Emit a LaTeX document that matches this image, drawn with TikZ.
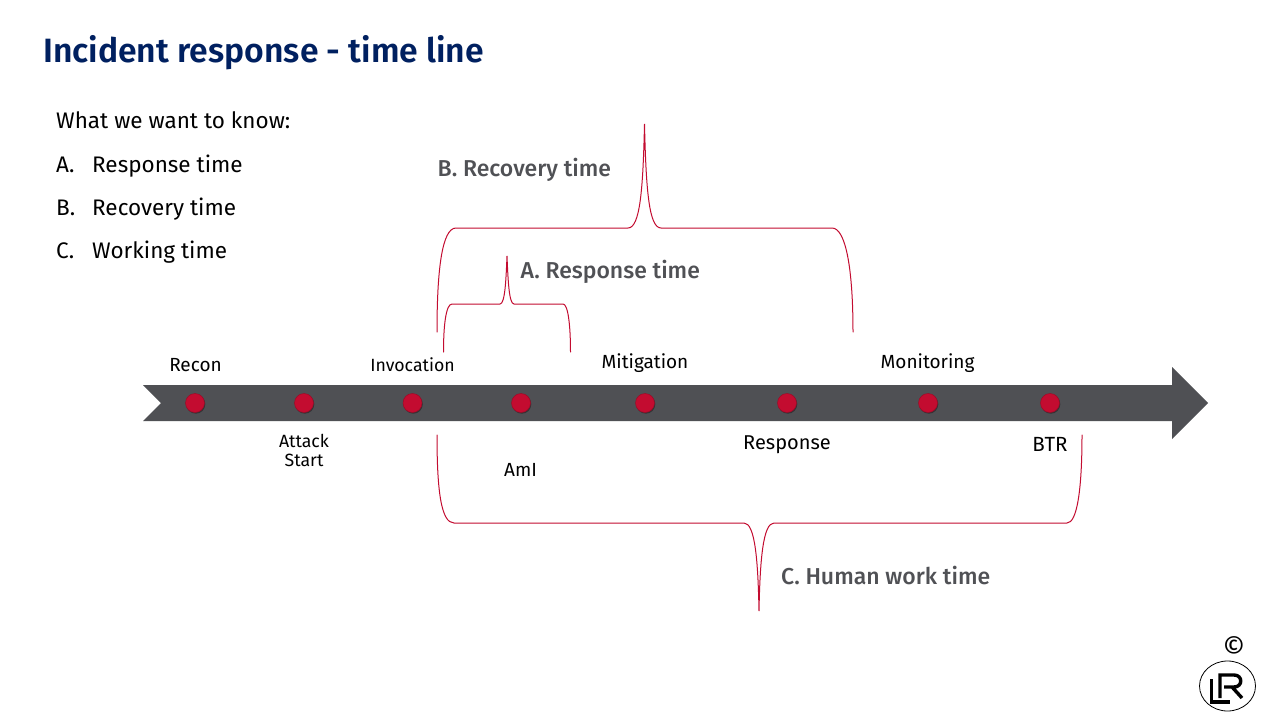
\documentclass[tikz,border=0pt]{standalone}
\usepackage{fontspec}
\setmainfont{Fira Sans}
\usetikzlibrary{shadows,shapes.geometric}
\definecolor{lrred}{HTML}{C30C30}
\definecolor{bar}{HTML}{4F5054}
\definecolor{navy}{HTML}{002060}
\definecolor{lab}{HTML}{505155}
\tikzset{x=1pt,y=-1pt,
 dot/.style={circle,minimum size=19pt,inner sep=0pt,fill=lrred,draw=lrred!80!black,line width=.5pt,drop shadow={shadow xshift=.8pt,shadow yshift=-1.2pt,opacity=.35,fill=black}},
 tick/.style={font=\fontsize{17.7}{21}\selectfont,text=black,align=center,inner sep=0pt},
 listtxt/.style={font=\fontsize{22.5}{26}\selectfont,text=black,anchor=base west,inner sep=0pt},
 blab/.style={font=\fontsize{23}{26}\selectfont\fontspec{Fira Sans Medium},text=lab,anchor=base west,inner sep=0pt},
 brace/.style={draw=lrred,line width=1pt,line cap=round}}
\begin{document}
\begin{tikzpicture}
\useasboundingbox (0,0) rectangle (1280,720);
\fill[white] (0,0) rectangle (1280,720);
\node[anchor=base west,inner sep=0pt,text=navy,font=\fontsize{33.7}{38}\selectfont\fontspec{Fira Sans SemiBold}] (title) at (43,62) {Incident response - time line};
\node[listtxt] (q) at (56,128) {What we want to know:};
\node[listtxt] (la) at (56,172) {A.};\node[listtxt] (ta) at (92,172) {Response time};
\node[listtxt] (lb) at (56,215) {B.};\node[listtxt] (tb) at (92,215) {Recovery time};
\node[listtxt] (lc) at (56,258) {C.};\node[listtxt] (tc) at (92,258) {Working time};
% arrow
\fill[bar] (143,385) -- (1172,385) -- (1172,367) -- (1208,403) -- (1172,439) -- (1172,421) -- (143,421) -- (161,403) -- cycle;
\foreach \n/\x in {d1/195,d2/304,d3/412.5,d4/521,d5/645,d6/787,d7/928,d8/1050}{\node[dot] (\n) at (\x,403) {};}
\node[tick,font=\fontsize{19}{22}\selectfont] (t1) at (195.5,365) {Recon};
\node[tick] (t2) at (304,450.5) {Attack\\[-2.5pt]Start};
\node[tick] (t3) at (412.5,365) {Invocation};
\node[tick,font=\fontsize{19}{22}\selectfont] (t4) at (520.5,469.5) {AmI};
\node[tick,font=\fontsize{19}{22}\selectfont] (t5) at (645,363) {Mitigation};
\node[tick,font=\fontsize{20}{22}\selectfont] (t6) at (787,444.5) {Response};
\node[tick,font=\fontsize{19}{22}\selectfont] (t7) at (927.5,363) {Monitoring};
\node[tick,font=\fontsize{20.5}{22}\selectfont] (t8) at (1050,444.5) {BTR};
% braces
\coordinate (bL) at (437,332);\coordinate (bT) at (644.5,124);\coordinate (bR) at (853,332);
\draw[brace] (bL) .. controls (437,270) and (442,228) .. (456,228) -- (628,228) .. controls (640,228) and (643,190) .. (bT) .. controls (646,190) and (649,228) .. (661,228) -- (832,228) .. controls (846,228) and (853,270) .. (bR);
\coordinate (aL) at (443.5,352);\coordinate (aT) at (507,256);\coordinate (aR) at (570.5,352);
\draw[brace] (aL) .. controls (443.5,325) and (446,304) .. (452,304) -- (500,304) .. controls (505,304) and (506,280) .. (aT) .. controls (508,280) and (509,304) .. (514,304) -- (563,304) .. controls (568,304) and (570.5,325) .. (aR);
\coordinate (cL) at (437,435);\coordinate (cB) at (759,611);\coordinate (cR) at (1082,435);
\draw[brace] (cL) .. controls (437,490) and (441,523) .. (454,523) -- (744,523) .. controls (755,523) and (758,560) .. (cB) .. controls (760,560) and (763,523) .. (774,523) -- (1067,523) .. controls (1077,523) and (1082,490) .. (cR);
\node[blab] (bb) at (437.5,176) {B. Recovery time};
\node[blab] (ba) at (520.5,278) {A. Response time};
\node[blab] (bc) at (781,584) {C. Human work time};
% logo
\node[inner sep=0pt,font=\fontsize{28}{30}\selectfont,text=black] (copy) at (1234,647) {©};
\node[draw=black,line width=.8pt,ellipse,minimum width=56pt,minimum height=50pt,inner sep=0pt] (logo) at (1227.5,686) {};
\draw[line width=3.4pt,black] (1211.5,679) -- (1211.5,702) -- (1230,702);
\draw[line width=3.4pt,black] (1220,698) -- (1220,675) -- (1234,675) .. controls (1243,675) and (1243,687) .. (1234,687) -- (1224,687) (1232,687) -- (1242,698);
\end{tikzpicture}
\end{document}
